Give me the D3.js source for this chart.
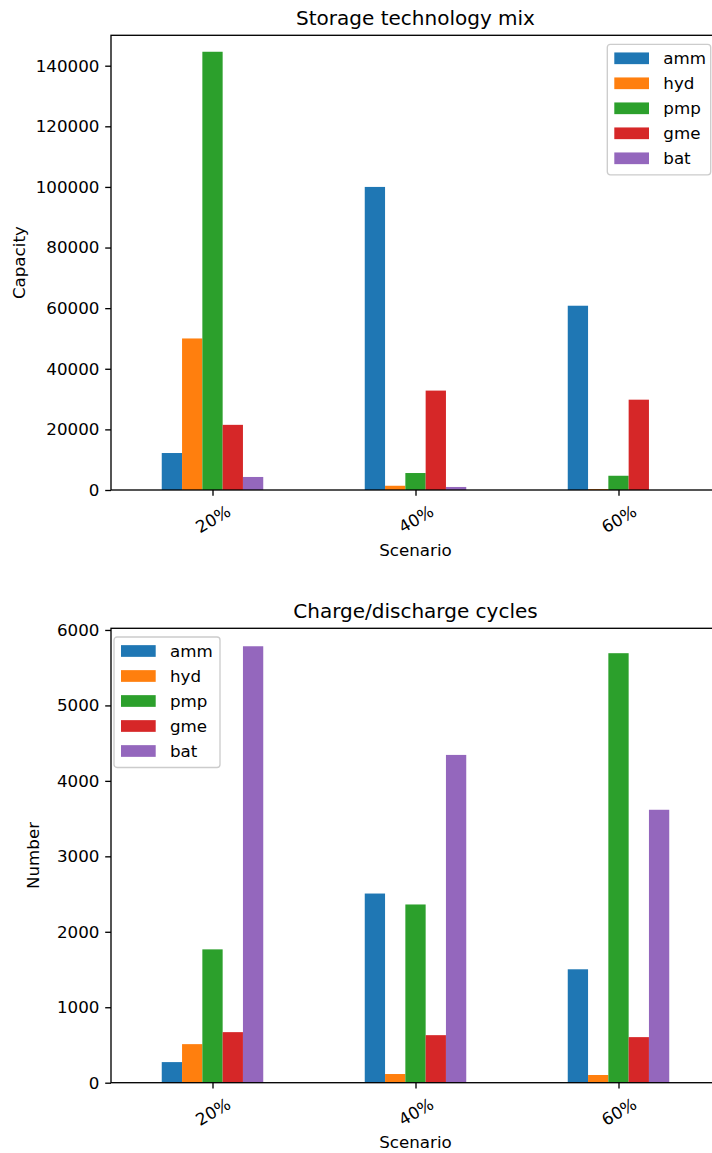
<!DOCTYPE html>
<meta charset="utf-8">
<style>
  body { margin: 0; background: #fff; }
  svg { display: block; font-family: "DejaVu Sans", sans-serif; }
</style>
<svg></svg>
<script src="https://d3js.org/d3.v7.min.js"></script>
<script>

// scenarios and storage technologies
var scenarios = ["20%", "40%", "60%"]
var techs = ["amm", "hyd", "pmp", "gme", "bat"]
var colors = ["#1f77b4", "#ff7f0e", "#2ca02c", "#d62728", "#9467bd"]

// capacity per tech, one value per scenario
var capAmm = [12200, 100000, 60800]
var capHyd = [50000, 1400, 300]
var capPmp = [144600, 5600, 4700]
var capGme = [21500, 32800, 29800]
var capBat = [4300, 1000, 0]

// charge/discharge cycles per tech
var cycAmm = [273, 2507, 1503]
var cycHyd = [511, 115, 102]
var cycPmp = [1767, 2362, 5692]
var cycGme = [670, 630, 604]
var cycBat = [5784, 4344, 3617]

var capTicks = [0, 20000, 40000, 60000, 80000, 100000, 120000, 140000]
var cycTicks = [0, 1000, 2000, 3000, 4000, 5000, 6000]

var width = 712
var height = 1153
var svg = d3.select("svg").attr("width", width).attr("height", height)

var fs = 16.7
var tickLen = 5.8

function drawPanel(opts) {
  var top = opts.top, bottom = opts.bottom
  var left = 111, right = 720
  var g = svg.append("g")

  var x = d3.scaleLinear().domain([-0.5, 2.5]).range([left, right])
  var y = d3.scaleLinear().domain([0, opts.ymax]).range([bottom, top])

  // bars
  opts.series.forEach(function(vals, j) {
    g.append("g").selectAll("rect")
      .data(vals)
      .enter().append("rect")
      .attr("x", function(d, i) { return x(i + (j - 2) * 0.1 - 0.05) })
      .attr("width", x(0.1) - x(0))
      .attr("y", function(d) { return y(d) })
      .attr("height", function(d) { return bottom - y(d) })
      .attr("fill", colors[j])
  })

  // frame
  g.append("rect")
    .attr("x", left).attr("y", top)
    .attr("width", right - left).attr("height", bottom - top)
    .attr("fill", "none").attr("stroke", "#000").attr("stroke-width", 1.33)

  // y axis
  var yAxis = g.append("g")
    .attr("transform", "translate(" + left + ",0)")
    .call(d3.axisLeft(y).tickValues(opts.ticks).tickFormat(d3.format("d"))
      .tickSize(tickLen).tickPadding(5.8))
  yAxis.select(".domain").remove()
  yAxis.selectAll("line").attr("stroke-width", 1.33)
  yAxis.selectAll("text").attr("font-size", fs).attr("font-family", "DejaVu Sans").attr("fill", "#000")

  // x axis
  var xAxis = g.append("g")
    .attr("transform", "translate(0," + bottom + ")")
    .call(d3.axisBottom(x).tickValues([0, 1, 2])
      .tickFormat(function(d) { return scenarios[d] }).tickSize(tickLen))
  xAxis.select(".domain").remove()
  xAxis.selectAll("line").attr("stroke-width", 1.33)
  xAxis.selectAll("text")
    .attr("font-size", fs).attr("font-family", "DejaVu Sans").attr("fill", "#000")
    .attr("y", 0).attr("dy", null)
    .attr("dominant-baseline", "central")
    .attr("transform", "translate(0,29) rotate(-30)")

  // title and labels
  g.append("text")
    .attr("x", (left + right) / 2).attr("y", top - 10)
    .attr("text-anchor", "middle").attr("font-size", 20)
    .text(opts.title)
  g.append("text")
    .attr("x", (left + right) / 2).attr("y", bottom + 65.5)
    .attr("text-anchor", "middle").attr("font-size", fs)
    .text("Scenario")
  g.append("text")
    .attr("transform", "translate(" + opts.ylabelX + "," + (top + bottom) / 2 + ") rotate(-90)")
    .attr("text-anchor", "middle").attr("font-size", fs)
    .text(opts.ylabel)

  // legend
  var lg = g.append("g").attr("transform", "translate(" + opts.legendX + "," + opts.legendY + ")")
  lg.append("rect")
    .attr("width", opts.legendW).attr("height", 130.5)
    .attr("rx", 3).attr("ry", 3)
    .attr("fill", "#fff").attr("fill-opacity", 0.8)
    .attr("stroke", "#cccccc").attr("stroke-width", 1.33)
  techs.forEach(function(t, j) {
    var cy = 14 + j * 25
    lg.append("rect")
      .attr("x", 7).attr("y", cy - 5.85)
      .attr("width", 34.7).attr("height", 11.7)
      .attr("fill", colors[j])
    lg.append("text")
      .attr("x", 56).attr("y", cy)
      .attr("dominant-baseline", "central")
      .attr("font-size", fs)
      .text(t)
  })
}

drawPanel({
  top: 35.3, bottom: 490, ymax: 150030,
  ticks: capTicks,
  series: [capAmm, capHyd, capPmp, capGme, capBat],
  title: "Storage technology mix", ylabel: "Capacity", ylabelX: 24.6,
  legendX: 607.3, legendY: 44.3, legendW: 103.4
})

drawPanel({
  top: 628.3, bottom: 1082.7, ymax: 6022,
  ticks: cycTicks,
  series: [cycAmm, cycHyd, cycPmp, cycGme, cycBat],
  title: "Charge/discharge cycles", ylabel: "Number", ylabelX: 39.3,
  legendX: 114, legendY: 637, legendW: 106
})

</script>
